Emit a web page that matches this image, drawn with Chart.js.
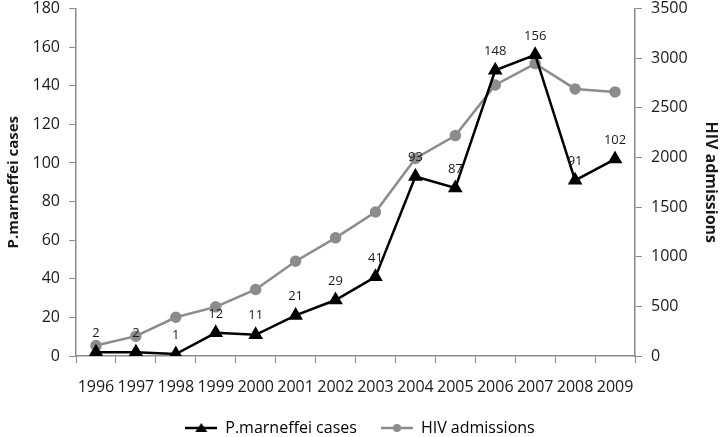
<!DOCTYPE html>
<html>
<head>
<meta charset="utf-8">
<script src="https://cdn.jsdelivr.net/npm/chart.js@4.4.0/dist/chart.umd.min.js"></script>
<style>
html, body { margin: 0; padding: 0; background: #fff; }
#wrap { width: 720px; height: 437px; }
</style>
</head>
<body>
<div id="wrap"><canvas id="chart"></canvas></div>
<script>
const years = ['1996', '1997', '1998', '1999', '2000', '2001', '2002', '2003', '2004', '2005', '2006', '2007', '2008', '2009'];
const cases = [2, 2, 1, 12, 11, 21, 29, 41, 93, 87, 148, 156, 91, 102];
const admissions = [105, 200, 390, 495, 670, 955, 1190, 1450, 1990, 2220, 2730, 2945, 2690, 2660];
const leftTicks = [0, 20, 40, 60, 80, 100, 120, 140, 160, 180];
const rightTicks = [0, 500, 1000, 1500, 2000, 2500, 3000, 3500];

const axisGray = '#8a8a8a';
const lineGray = '#8c8c8c';
const textColor = '#1a1a1a';

Chart.defaults.font.family = "'Open Sans', sans-serif";
Chart.defaults.color = textColor;

// little line + marker images for the legend
const legendMark = (color, style) => {
    const c = document.createElement('canvas');
    c.width = 32; c.height = 14;
    const g = c.getContext('2d');
    g.strokeStyle = color;
    g.fillStyle = color;
    g.lineWidth = 2.5;
    g.beginPath(); g.moveTo(0, 7); g.lineTo(32, 7); g.stroke();
    g.beginPath();
    if (style === 'triangle') {
        g.moveTo(16, 2); g.lineTo(22, 11); g.lineTo(10, 11); g.closePath();
    } else {
        g.arc(16, 7, 4, 0, Math.PI * 2);
    }
    g.fill();
    return c;
};

const valueLabels = {
    id: 'valueLabels',
    afterDatasetsDraw(chart) {
        const ctx = chart.ctx;
        const meta = chart.getDatasetMeta(0);
        ctx.save();
        ctx.font = "13px 'Open Sans', sans-serif";
        ctx.fillStyle = textColor;
        ctx.textAlign = 'center';
        ctx.textBaseline = 'middle';
        meta.data.forEach((pt, i) => {
            ctx.fillText(String(cases[i]), pt.x, pt.y - 19);
        });
        ctx.restore();
    }
};

const tickSetter = (list) => (scale) => {
    scale.ticks = list.map(v => ({ value: v }));
};

// fixed box sizes so the plot area sits where the original one does
const fitY = (w) => (s) => {
    s.width = w;
    s.paddingTop = 8;
    s.paddingBottom = 0;
};

new Chart(document.getElementById('chart'), {
    type: 'line',
    data: {
        labels: years,
        datasets: [{
            label: 'P.marneffei cases',
            data: cases,
            yAxisID: 'y',
            borderColor: '#000',
            backgroundColor: '#000',
            borderWidth: 2.5,
            pointStyle: 'triangle',
            pointRadius: 6,
            pointHoverRadius: 6,
            tension: 0
        }, {
            label: 'HIV admissions',
            data: admissions,
            yAxisID: 'y1',
            borderColor: lineGray,
            backgroundColor: lineGray,
            borderWidth: 2.5,
            pointStyle: 'circle',
            pointRadius: 4.5,
            pointHoverRadius: 4.5,
            tension: 0
        }]
    },
    options: {
        responsive: true,
        maintainAspectRatio: false,
        animation: false,
        layout: { padding: 0 },
        plugins: {
            tooltip: { enabled: false },
            legend: {
                position: 'bottom',
                maxHeight: 41,
                labels: {
                    usePointStyle: true,
                    pointStyleWidth: 32,
                    padding: 24,
                    font: { size: 16 },
                    color: textColor,
                    generateLabels: (chart) => chart.data.datasets.map((ds, i) => ({
                        text: ds.label,
                        pointStyle: legendMark(ds.borderColor, ds.pointStyle),
                        fillStyle: ds.borderColor,
                        strokeStyle: ds.borderColor,
                        lineWidth: 0,
                        datasetIndex: i
                    }))
                }
            }
        },
        scales: {
            x: {
                offset: true,
                grid: { display: true, offset: true, drawOnChartArea: false, drawTicks: true, tickLength: 7, color: axisGray, lineWidth: 1 },
                border: { color: axisGray, width: 1.5 },
                ticks: { font: { size: 16 }, padding: 15, maxRotation: 0, autoSkip: false },
                afterFit: (s) => { s.height = 40; }
            },
            y: {
                position: 'left',
                min: leftTicks[0],
                max: leftTicks[leftTicks.length - 1],
                afterBuildTicks: tickSetter(leftTicks),
                grid: { drawOnChartArea: false, drawTicks: true, tickLength: 7, color: axisGray },
                border: { color: axisGray, width: 1.5 },
                ticks: { font: { size: 16 }, padding: 9, callback: (v) => String(v) },
                title: { display: true, text: 'P.marneffei cases', font: { size: 15, weight: 'bold' }, padding: { top: 5, bottom: 0 } },
                afterFit: fitY(76)
            },
            y1: {
                position: 'right',
                min: rightTicks[0],
                max: rightTicks[rightTicks.length - 1],
                afterBuildTicks: tickSetter(rightTicks),
                grid: { drawOnChartArea: false, drawTicks: true, tickLength: 7, color: axisGray },
                border: { color: axisGray, width: 1.5 },
                ticks: { font: { size: 16 }, padding: 9, callback: (v) => String(v) },
                title: { display: true, text: 'HIV admissions', font: { size: 16, weight: 'bold' }, padding: 0 },
                afterFit: fitY(85)
            }
        }
    },
    plugins: [valueLabels]
});
</script>
</body>
</html>
